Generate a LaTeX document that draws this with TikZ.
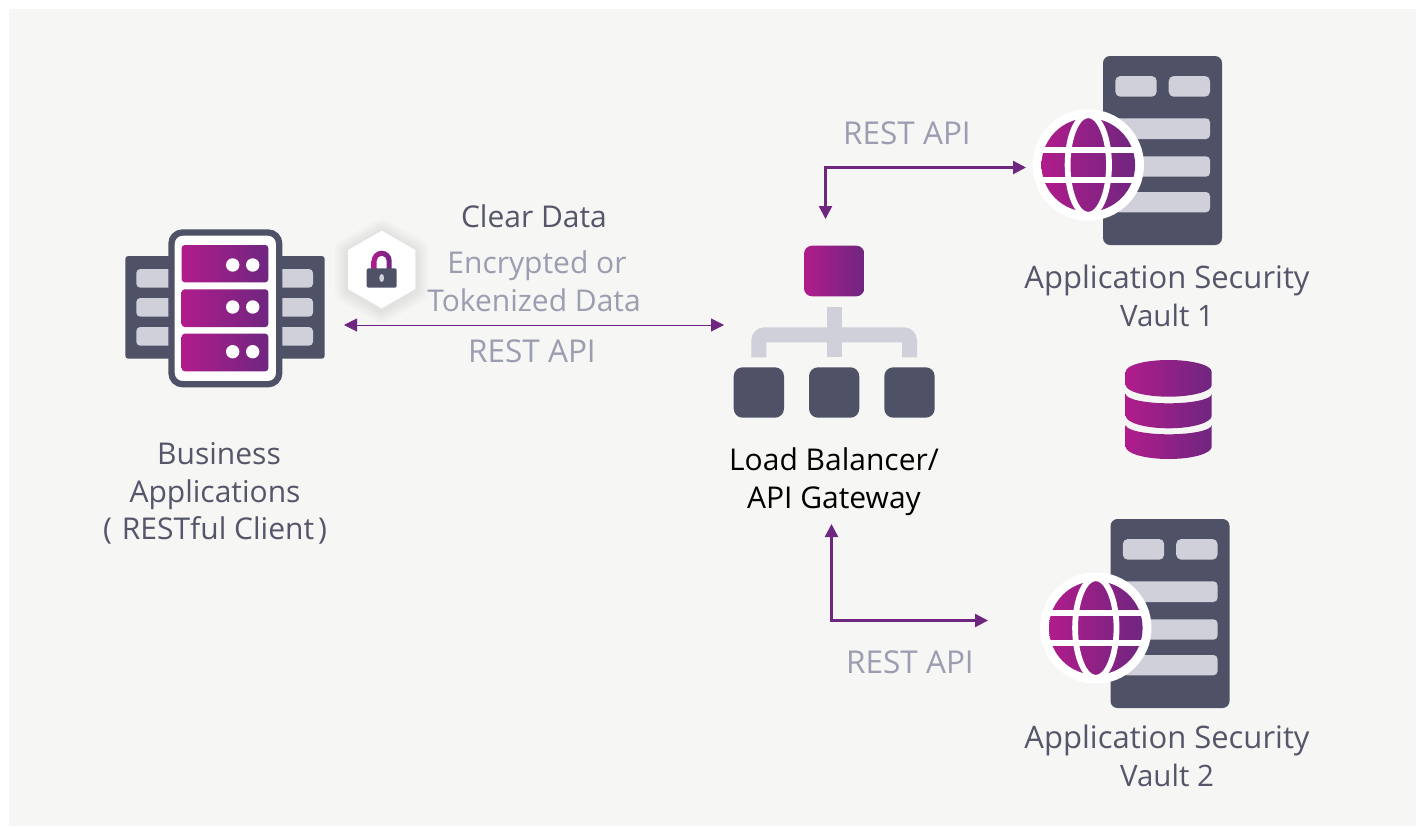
\documentclass[tikz,border=0pt]{standalone}
\usepackage{fontspec}
\setmainfont{Open Sans}
\usetikzlibrary{arrows.meta}
\definecolor{gradL}{HTML}{B01C8B}
\definecolor{gradR}{HTML}{6F2680}
\definecolor{slateD}{HTML}{4F5167}
\definecolor{paleB}{HTML}{D0D0DA}
\definecolor{bgG}{HTML}{F6F6F4}
\definecolor{labelG}{HTML}{9B9DB0}
\definecolor{textD}{HTML}{55566A}
\definecolor{arrowP}{HTML}{6F2680}
\tikzset{
  grad/.style={left color=gradL,right color=gradR,draw=none},
  darkfill/.style={fill=slateD,draw=none},
  palefill/.style={fill=paleB,draw=none},
  txt/.style={anchor=base,inner sep=0pt,font=\fontsize{30}{36}\selectfont},
  graytxt/.style={txt,text=labelG},
  resttxt/.style={graytxt,font=\fontsize{31.5}{36}\selectfont},
  darktxt/.style={txt,text=textD},
  vaulttxt/.style={darktxt,font=\fontsize{31}{36}\selectfont},
  vaultnum/.style={darktxt,font=\fontsize{29.5}{36}\selectfont},
  thinarrow/.style={draw=arrowP,line width=1pt,{Triangle[length=13pt,width=13pt]}-{Triangle[length=13pt,width=13pt]}},
  wirearrow/.style={draw=arrowP,line width=2.4pt,{Triangle[length=13pt,width=13pt]}-{Triangle[length=13pt,width=13pt]}},
}
\newcommand{\vaulticon}{%
  \path[darkfill,rounded corners=7pt] (1103,56) rectangle (1222,245);
  \path[palefill,rounded corners=5pt] (1115.3,76) rectangle (1156.7,96.7);
  \path[palefill,rounded corners=5pt] (1168.7,76) rectangle (1210,96.7);
  \path[palefill,rounded corners=4pt] (1115,118.3) rectangle (1210,139);
  \path[palefill,rounded corners=4pt] (1115,156.3) rectangle (1210,176.7);
  \path[palefill,rounded corners=4pt] (1115,192) rectangle (1210,212.3);
  \fill[white] (1088.3,165) circle[radius=55.7];
  \path[grad] (1088.3,165) circle[radius=46.8];
  \begin{scope}
    \clip (1088.3,165) circle[radius=47.5];
    \draw[white,line width=5.8pt] (1030,150) -- (1146,150);
    \draw[white,line width=5.8pt] (1030,180) -- (1146,180);
    \draw[white,line width=5.8pt] (1088.3,165) ellipse[x radius=20.7,y radius=50];
  \end{scope}
}
\begin{document}
\begin{tikzpicture}[x=1pt,y=-1pt]
\useasboundingbox (0,0) rectangle (1425,827);
\fill[white] (0,0) rectangle (1425,827);
\fill[bgG] (9,9) rectangle (1416,826);

% business application server
\path[darkfill,rounded corners=3pt] (125.3,256) rectangle (324.7,358.7);
\foreach \yy/\zz in {269/287.7,298/316.7,327/345.7}{
  \path[palefill,rounded corners=4pt] (136.3,\yy) rectangle (180,\zz);
  \path[palefill,rounded corners=4pt] (270,\yy) rectangle (313,\zz);
}
\path[fill=white,draw=slateD,line width=6.3pt,rounded corners=11pt] (171.5,232.5) rectangle (279.2,384.2);
\foreach \yy/\zz/\cc in {245/282.3/265,289.3/327/307,333.7/371.3/351.7}{
  \path[grad,rounded corners=3pt] (181.7,\yy) rectangle (268.3,\zz);
  \fill[white] (232.7,\cc) circle[radius=6.7];
  \fill[white] (252.7,\cc) circle[radius=6.7];
}

% padlock hexagon
\foreach \w in {26,21,16,11,6}{
  \draw[black,opacity=0.016,line width=\w pt,line join=round,fill=none]
    (381.7,232.2) -- (415.3,251.5) -- (415.3,290.5) -- (381.7,309.8) -- (348,290.5) -- (348,251.5) -- cycle;
}
\fill[white] (381.7,230.7) -- (415.3,250) -- (415.3,289) -- (381.7,308.3) -- (348,289) -- (348,250) -- cycle;
\path[grad] (371.7,269) -- (371.7,260.7) arc[start angle=180,end angle=360,radius=10] -- (391.7,269) -- (386.7,269) -- (386.7,260.7) arc[start angle=360,end angle=180,radius=5] -- (376.7,269) -- cycle;
\path[darkfill,rounded corners=2pt] (366.7,268.3) rectangle (396.7,287.7);
\fill[paleB] (381.7,278) ellipse[x radius=2.4,y radius=4];

% load balancer icon
\path[grad,rounded corners=8pt] (804,245.7) rectangle (864.3,296.3);
\path[palefill] (826.7,307.3) rectangle (841.7,357.3);
\path[palefill] (751.3,357.3) -- (751.3,340.3) arc[start angle=180,end angle=270,radius=13] -- (904,327.3) arc[start angle=270,end angle=360,radius=13] -- (917,357.3) -- (902,357.3) -- (902,342.3) -- (766.3,342.3) -- (766.3,357.3) -- cycle;
\foreach \xa/\xb in {733.7/784,809/859.3,884.3/934.7}{
  \path[darkfill,rounded corners=9pt] (\xa,367.3) rectangle (\xb,417.7);
}

% vaults
\vaulticon
\begin{scope}[shift={(7.5,463)}]
\vaulticon
\end{scope}

% database
\path[grad] (1125.7,371.7) arc[start angle=180,end angle=360,x radius=43,y radius=11.7] -- (1211.7,385) arc[start angle=0,end angle=180,x radius=43,y radius=11.7] -- cycle;
\path[grad] (1125.7,394) arc[start angle=180,end angle=0,x radius=43,y radius=9.3] -- (1211.7,415.7) arc[start angle=0,end angle=180,x radius=43,y radius=12.6] -- cycle;
\path[grad] (1125.7,425) arc[start angle=180,end angle=0,x radius=43,y radius=9.3] -- (1211.7,446.7) arc[start angle=0,end angle=180,x radius=43,y radius=12.3] -- cycle;

% connector ends
\coordinate (clientEnd) at (344,325);
\coordinate (gatewayEnd) at (724,325);
\coordinate (gwTop) at (825.5,219);
\coordinate (vaultOneEnd) at (1026,167.5);
\coordinate (gwBottom) at (831.5,524);
\coordinate (vaultTwoEnd) at (988,620.5);

\draw[thinarrow] (clientEnd) -- (gatewayEnd);
\draw[wirearrow] (gwTop) |- (vaultOneEnd);
\draw[wirearrow] (gwBottom) |- (vaultTwoEnd);

% labels
\node[darktxt] (clear) at (534,227) {Clear Data};
\node[graytxt] (enc1) at (537,273) {Encrypted or};
\node[graytxt] (enc2) at (534,311) {Tokenized Data};
\node[resttxt] (rest1) at (532,362) {REST API};
\node[resttxt] (rest2) at (907,144) {REST API};
\node[resttxt] (rest3) at (910,673) {REST API};
\node[darktxt] (biz1) at (219,464) {Business};
\node[darktxt] (biz2) at (215,502) {Applications};
\node[darktxt] (biz3) at (215,539) {(\hspace{10pt}RESTful Client\hspace{4pt})};
\node[txt,text=black] (lb1) at (834,470) {Load Balancer/};
\node[txt,text=black] (lb2) at (834,508) {API Gateway};
\node[vaulttxt] (v1a) at (1167,288) {Application Security};
\node[vaultnum] (v1b) at (1167,326) {Vault 1};
\node[vaulttxt] (v2a) at (1167,748) {Application Security};
\node[vaultnum] (v2b) at (1167,786) {Vault 2};
\end{tikzpicture}
\end{document}
